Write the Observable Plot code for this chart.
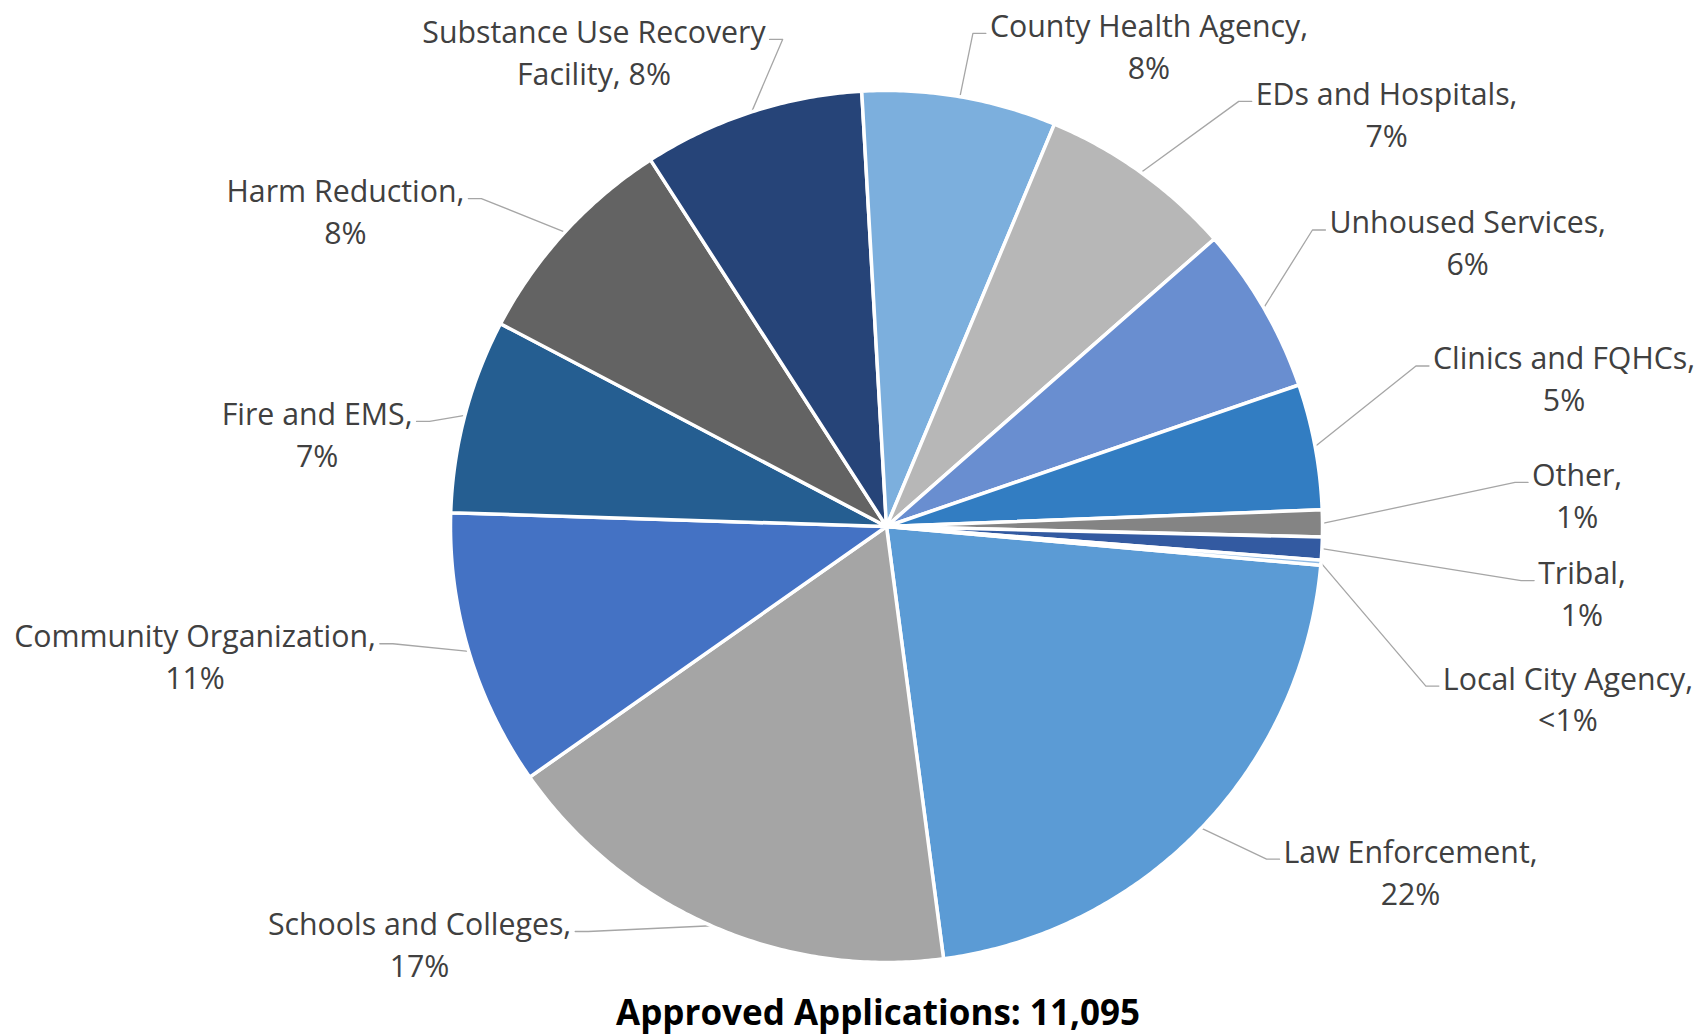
<!DOCTYPE html>
<html>
<head>
<meta charset="utf-8">
<script src="https://cdn.jsdelivr.net/npm/d3@7"></script>
<script src="https://cdn.jsdelivr.net/npm/@observablehq/plot@0.6"></script>
<style>
  html, body { margin: 0; padding: 0; background: #fff; }
  #wrap { position: relative; width: 1701px; height: 1036px; }
  #chart svg { display: block; }
  #title {
    position: absolute; left: 878px; top: 990px; transform: translateX(-50%);
    height: 44px; line-height: 44px; white-space: nowrap;
    font-family: "Open Sans", sans-serif; font-weight: 700; font-size: 35px; color: #000;
  }
</style>
</head>
<body>
<div id="wrap">
  <div id="chart"></div>
  <div id="title">Approved Applications: 11,095</div>
</div>
<script>
// ---- data (clockwise, starting with the first slice) ----
const categories = [
  "Law Enforcement", "Schools and Colleges", "Community Organization", "Fire and EMS",
  "Harm Reduction", "Substance Use Recovery Facility", "County Health Agency",
  "EDs and Hospitals", "Unhoused Services", "Clinics and FQHCs", "Other", "Tribal",
  "Local City Agency"
];
const shares = [21.5, 17.35, 10.25, 7.2, 8.2, 8.2, 7.2, 7.25, 6.2, 4.65, 1.0, 0.85, 0.18];
const percentLabels = ["22%", "17%", "11%", "7%", "8%", "8%", "8%", "7%", "6%", "5%", "1%", "1%", "<1%"];
const colors = [
  "#5B9BD5", "#A5A5A5", "#4472C4", "#255E91", "#636363", "#264478", "#7CAFDD",
  "#B7B7B7", "#698ED0", "#327DC2", "#848484", "#335AA1", "#8FB9E3"
];
const firstSliceAngle = 95.1; // degrees clockwise from 12 o'clock
// label placement: centre of first label line, in pie radii from the pie centre (x right, y up)
const labelAnchors = [
  [1.202, -0.740], [-1.071, -0.906], [-1.586, -0.246], [-1.306, 0.264],
  [-1.241, 0.775], [-0.671, 1.140], [0.602, 1.154], [1.147, 0.998],
  [1.333, 0.703], [1.554, 0.391], [1.584, 0.124], [1.595, -0.101], [1.563, -0.343]
];

// ---- layout ----
const W = 1701, H = 990, CX = 886, CY = 526, R = 436;
const FONT = 30.3, LINE = 42, MAXW = 400;
const px = 1 / R;

const sum = d3.sum(shares);
let acc = firstSliceAngle;
const slices = categories.map((name, i) => {
  const a0 = acc, a1 = acc + shares[i] / sum * 360;
  acc = a1;
  return {name, a0, a1, mid: (a0 + a1) / 2};
});
const rad = a => a * Math.PI / 180;
const polar = (a, r) => [r * Math.sin(rad(a)), r * Math.cos(rad(a))];

const slicePts = [];
for (const s of slices) {
  slicePts.push({name: s.name, x: 0, y: 0});
  const n = Math.max(2, Math.ceil((s.a1 - s.a0) / 0.5));
  for (let k = 0; k <= n; k++) {
    const [x, y] = polar(s.a0 + (s.a1 - s.a0) * k / n, 1);
    slicePts.push({name: s.name, x, y});
  }
  slicePts.push({name: s.name, x: 0, y: 0});
}

const ctx = document.createElement("canvas").getContext("2d");
ctx.font = `${FONT}px "Open Sans"`;
const tw = t => ctx.measureText(t).width;

const labels = slices.map((s, i) => {
  let line1 = s.name + ",", line2 = percentLabels[i];
  if (tw(line1) > MAXW) {
    const words = s.name.split(" ");
    const last = words.pop();
    line1 = words.join(" ");
    line2 = last + ", " + percentLabels[i];
  }
  const [u, v] = labelAnchors[i];
  return {name: s.name, text: line1 + "\n" + line2, x: u, y: v - (LINE / 2) * px, line1y: v, w1: tw(line1), right: u > 0};
});

const leaderPts = [];
labels.forEach((l, i) => {
  const [rx, ry] = polar(slices[i].mid, 1);
  const ey = l.line1y - 10 * px;
  const edge = l.right ? l.x - (l.w1 / 2 + 4) * px : l.x + (l.w1 / 2 + 4) * px;
  const elbow = l.right ? edge - 13 * px : edge + 13 * px;
  leaderPts.push({name: l.name, x: rx, y: ry}, {name: l.name, x: elbow, y: ey}, {name: l.name, x: edge, y: ey});
});

const chart = Plot.plot({
  width: W, height: H, margin: 0,
  x: {domain: [-CX / R, (W - CX) / R], axis: null},
  y: {domain: [-(H - CY) / R, CY / R], axis: null},
  color: {domain: categories, range: colors},
  style: {background: "white", overflow: "visible"},
  marks: [
    Plot.line(leaderPts, {x: "x", y: "y", z: "name", stroke: "#A6A6A6", strokeWidth: 1.3, curve: "linear"}),
    Plot.line(slicePts, {x: "x", y: "y", z: "name", fill: "name", stroke: "white", strokeWidth: 3.5, curve: "linear"}),
    Plot.text(labels, {x: "x", y: "y", text: "text", fill: "#404040", fontSize: FONT, fontFamily: "Open Sans", lineHeight: LINE / FONT, textAnchor: "middle"})
  ]
});
document.getElementById("chart").appendChild(chart);
</script>
</body>
</html>
